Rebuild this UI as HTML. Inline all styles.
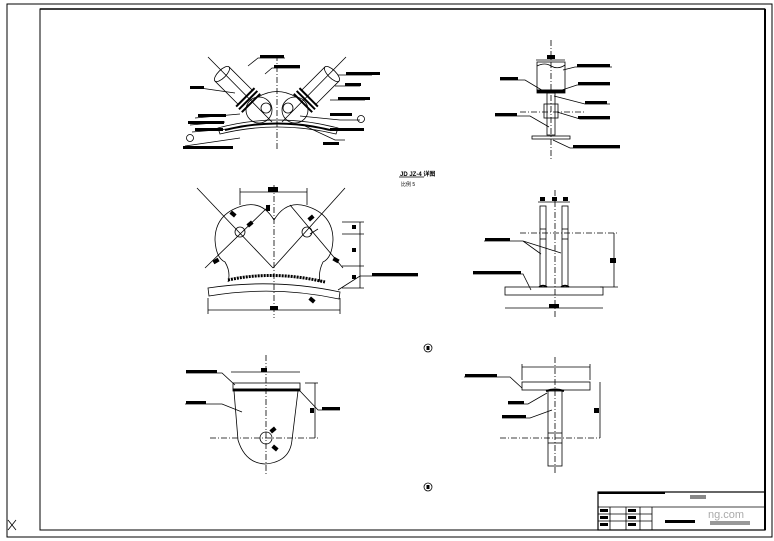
<!DOCTYPE html>
<html><head><meta charset="utf-8"><style>
html,body{margin:0;padding:0;background:#fff;}
svg{display:block;}
text{font-family:"Liberation Sans","Noto Sans CJK SC",sans-serif;}
</style></head><body>
<svg width="774" height="541" viewBox="0 0 774 541" xmlns="http://www.w3.org/2000/svg" fill="none" stroke="#000" stroke-width="0.8">
<!-- frames -->
<rect x="7" y="4" width="765" height="533" stroke-width="1"/>
<rect x="40" y="9" width="725" height="521" stroke-width="1"/>
<line x1="765" y1="9" x2="765" y2="530" stroke-width="2"/>
<line x1="40" y1="9" x2="765" y2="9" stroke-width="1.5"/>
<path d="M8 520 L16 530 M16 520 L8 530" stroke-width="0.8"/>
<!-- title block -->
<rect x="598" y="492" width="167" height="38" stroke-width="1.2"/>
<line x1="598" y1="493" x2="665" y2="493" stroke-width="2"/>
<line x1="598" y1="507" x2="765" y2="507"/>
<line x1="598" y1="514" x2="652" y2="514"/>
<line x1="598" y1="521" x2="652" y2="521"/>
<line x1="610" y1="507" x2="610" y2="530"/><line x1="626" y1="507" x2="626" y2="530"/>
<line x1="640" y1="507" x2="640" y2="530"/><line x1="652" y1="507" x2="652" y2="530"/>
<g fill="#000" stroke="none">
<rect x="600" y="509" width="8" height="3"/><rect x="600" y="516" width="8" height="3"/><rect x="600" y="523" width="8" height="3"/>
<rect x="628" y="509" width="8" height="3"/><rect x="628" y="516" width="8" height="3"/><rect x="628" y="523" width="8" height="3"/>
<rect x="665" y="520" width="30" height="3"/><rect x="690" y="495" width="16" height="4" fill="#888"/>
<rect x="710" y="521" width="40" height="4" fill="#999"/>
</g>
<text x="708" y="518" font-size="11" fill="#aaa" stroke="none">ng.com</text>

<!-- title text -->
<text x="400" y="176" font-size="6" fill="#000" stroke="none" font-weight="bold">JD JZ-4 详图</text>
<line x1="399" y1="177" x2="424" y2="177"/>
<text x="401" y="186" font-size="5" fill="#000" stroke="none">比例 5</text>
<circle cx="428" cy="348" r="4"/><rect x="426.5" y="346" width="3" height="4" fill="#000" stroke="none"/>
<circle cx="428" cy="487" r="4"/><rect x="426.5" y="485" width="3" height="4" fill="#000" stroke="none"/>

<!-- TOP LEFT view -->
<g>
<line x1="277" y1="55" x2="277" y2="150" stroke-dasharray="6,2,1,2"/>
<line x1="208" y1="57" x2="272" y2="122"/><line x1="346" y1="57" x2="282" y2="122"/>
<g transform="translate(222,74) rotate(45)">
<path d="M0 -10 L34 -10 M0 10 L34 10"/>
<ellipse cx="0" cy="0" rx="4" ry="10"/>
<path d="M33 -13 L33 13 M37 -13 L37 13 M41 -13 L41 13" stroke-width="2"/>
</g>
<g transform="translate(332,74) rotate(135)">
<path d="M0 -10 L34 -10 M0 10 L34 10"/>
<ellipse cx="0" cy="0" rx="4" ry="10"/>
<path d="M33 -13 L33 13 M37 -13 L37 13 M41 -13 L41 13" stroke-width="2"/>
</g>
<circle cx="259" cy="110" r="13"/><circle cx="295" cy="110" r="13"/>
<circle cx="266" cy="108" r="5"/><circle cx="288" cy="108" r="5"/>
<path d="M218 128 Q277 112 338 128 L336 134 Q277 120 220 134 Z"/>
<path d="M225 130 Q277 117 330 130" stroke-width="2"/>
<path d="M258 97 Q277 86 296 97"/>
<!-- leaders -->
<path d="M248 66 L258 58 L285 58 M265 74 L272 68 L300 68 M200 88 L235 93 M338 75 L372 75 M335 86 L360 86 M330 100 L365 100 M300 116 L340 120 L360 120 M305 126 L335 140 L345 140 M195 118 L240 114 M190 125 L225 122 M192 132 L228 129 M185 146 L240 138"/>
<g fill="#000" stroke="none">
<rect x="260" y="55" width="24" height="3"/><rect x="274" y="65" width="26" height="3"/>
<rect x="190" y="86" width="14" height="3"/><rect x="346" y="72" width="34" height="3"/>
<rect x="345" y="83" width="16" height="3"/><rect x="338" y="97" width="32" height="3"/>
<rect x="330" y="113" width="22" height="3"/><rect x="330" y="128" width="34" height="3"/>
<rect x="323" y="142" width="16" height="3"/><rect x="198" y="114" width="28" height="3"/>
<rect x="188" y="121" width="36" height="3"/><rect x="195" y="128" width="28" height="3"/>
<rect x="183" y="146" width="50" height="3"/>
</g>
<circle cx="361" cy="119" r="3.5"/><circle cx="190" cy="138" r="3.5"/>
</g>

<!-- TOP RIGHT view -->
<g>
<line x1="551" y1="40" x2="551" y2="160" stroke-dasharray="6,2,1,2"/>
<line x1="520" y1="112" x2="585" y2="112" stroke-dasharray="6,2,1,2"/>
<line x1="536" y1="60" x2="565" y2="60"/>
<rect x="537" y="62" width="28" height="28"/>
<path d="M537 66 Q545 62 551 66 Q558 70 565 65"/>
<rect x="537" y="90" width="28" height="3" fill="#000"/>
<rect x="547" y="93" width="8" height="42"/>
<rect x="544" y="104" width="14" height="14"/>
<rect x="532" y="136" width="38" height="3"/>
<rect x="547" y="55" width="8" height="4" fill="#000" stroke="none"/>
<path d="M563 70 L575 67 L612 67 M562 90 L577 85 L610 85 M554 96 L585 104 L610 104 M557 112 L580 119 L610 119 M549 127 L530 116 L495 116 M545 92 L525 80 L500 80 M553 140 L570 148 L620 148"/>
<g fill="#000" stroke="none">
<rect x="577" y="64" width="33" height="3"/><rect x="578" y="82" width="32" height="3"/>
<rect x="585" y="101" width="22" height="3"/><rect x="578" y="116" width="32" height="3"/>
<rect x="495" y="113" width="22" height="3"/><rect x="500" y="77" width="18" height="3"/>
<rect x="573" y="145" width="47" height="3"/>
</g>
</g>

<!-- MID LEFT view -->
<g>
<line x1="274" y1="185" x2="274" y2="318" stroke-dasharray="6,2,1,2"/>
<line x1="240" y1="192" x2="307" y2="192"/><line x1="240" y1="188" x2="240" y2="205"/><line x1="307" y1="188" x2="307" y2="205"/>
<rect x="268" y="187" width="10" height="5" fill="#000" stroke="none"/>
<line x1="197" y1="188" x2="273" y2="268"/><line x1="273" y1="268" x2="345" y2="188"/>
<line x1="205" y1="268" x2="270" y2="205"/><line x1="290" y1="205" x2="343" y2="268"/>
<path d="M274 220 Q262 200 242 206 Q215 214 215 240 Q216 258 225 262 Q231 272 228 282 M274 220 Q286 200 306 206 Q333 214 333 240 Q332 258 323 262 Q318 272 320 282"/>
<circle cx="240" cy="232" r="5"/><circle cx="307" cy="232" r="5"/>
<path d="M228 280 Q274 270 325 282" stroke-width="3" stroke-dasharray="2,1"/>
<path d="M208 288 Q274 278 340 292 L339 299 Q274 285 209 296 Z"/>
<line x1="208" y1="310" x2="340" y2="310"/><line x1="208" y1="298" x2="208" y2="314"/><line x1="340" y1="298" x2="340" y2="314"/>
<rect x="270" y="306" width="8" height="4" fill="#000" stroke="none"/>
<line x1="360" y1="222" x2="360" y2="288"/>
<path d="M342 222 L364 222 M342 234 L364 234 M342 266 L364 266 M342 288 L364 288"/>
<rect x="352" y="225" width="4" height="4" fill="#000" stroke="none"/>
<rect x="352" y="248" width="4" height="4" fill="#000" stroke="none"/>
<rect x="352" y="275" width="4" height="4" fill="#000" stroke="none"/>
<path d="M338 290 L360 276 L418 276"/>
<rect x="372" y="273" width="46" height="3" fill="#000" stroke="none"/>
<g fill="#000" stroke="none">
<rect x="230" y="212" width="6" height="4" transform="rotate(40 233 214)"/>
<rect x="266" y="205" width="4" height="6"/>
<rect x="308" y="216" width="6" height="4" transform="rotate(-40 311 218)"/>
<rect x="247" y="222" width="6" height="4" transform="rotate(-40 250 224)"/>
<rect x="213" y="259" width="6" height="4" transform="rotate(-30 216 261)"/>
<rect x="333" y="258" width="6" height="4" transform="rotate(30 336 260)"/>
<rect x="309" y="298" width="6" height="4" transform="rotate(40 312 300)"/>
</g>
<path d="M310 234 L318 229"/>
</g>

<!-- MID RIGHT view -->
<g>
<line x1="555" y1="190" x2="555" y2="318" stroke-dasharray="6,2,1,2"/>
<line x1="520" y1="233" x2="618" y2="233" stroke-dasharray="6,2,1,2"/>
<rect x="540" y="206" width="6" height="81"/><rect x="562" y="206" width="6" height="81"/>
<line x1="540" y1="229" x2="546" y2="229"/><line x1="540" y1="239" x2="546" y2="239"/>
<line x1="562" y1="229" x2="568" y2="229"/><line x1="562" y1="239" x2="568" y2="239"/>
<line x1="538" y1="202" x2="570" y2="202"/>
<g fill="#000" stroke="none"><rect x="540" y="197" width="5" height="4"/><rect x="552" y="197" width="5" height="4"/><rect x="563" y="197" width="5" height="4"/></g>
<rect x="505" y="287" width="98" height="8"/>
<path d="M539 287 Q543 284 547 287 M561 287 Q565 284 569 287" stroke-width="1.5"/>
<line x1="505" y1="308" x2="603" y2="308"/>
<rect x="549" y="304" width="10" height="4" fill="#000" stroke="none"/>
<line x1="614" y1="233" x2="614" y2="287"/><line x1="600" y1="287" x2="618" y2="287"/>
<rect x="610" y="258" width="6" height="5" fill="#000" stroke="none"/>
<path d="M484 241 L523 241 L541 254 M523 241 L561 253 M473 274 L523 274 L531 290"/>
<rect x="485" y="238" width="25" height="3" fill="#000" stroke="none"/>
<rect x="473" y="271" width="48" height="3" fill="#000" stroke="none"/>
</g>

<!-- BOTTOM LEFT view -->
<g>
<line x1="266" y1="355" x2="266" y2="475" stroke-dasharray="6,2,1,2"/>
<line x1="210" y1="438" x2="318" y2="438" stroke-dasharray="6,2,1,2"/>
<line x1="231" y1="372" x2="300" y2="372"/><rect x="261" y="368" width="6" height="4" fill="#000" stroke="none"/>
<rect x="233" y="383" width="67" height="6"/>
<rect x="233" y="389" width="67" height="2" fill="#000"/>
<path d="M234 391 L238 440 Q245 463 265 464 Q290 462 292 440 L298 391"/>
<circle cx="266" cy="438" r="6"/>
<line x1="315" y1="383" x2="315" y2="438"/><line x1="305" y1="383" x2="318" y2="383"/>
<rect x="310" y="408" width="4" height="5" fill="#000" stroke="none"/>
<path d="M186 373 L222 373 L235 385 M185 404 L222 404 L242 412 M300 391 L318 410 L340 410"/>
<g fill="#000" stroke="none">
<rect x="186" y="370" width="31" height="3"/><rect x="186" y="401" width="20" height="3"/>
<rect x="322" y="407" width="18" height="3"/>
<rect x="270" y="428" width="6" height="4" transform="rotate(-40 273 430)"/>
<rect x="272" y="446" width="6" height="4" transform="rotate(40 275 448)"/>
</g>
</g>

<!-- BOTTOM RIGHT view -->
<g>
<line x1="555" y1="357" x2="555" y2="475" stroke-dasharray="6,2,1,2"/>
<line x1="500" y1="438" x2="600" y2="438" stroke-dasharray="6,2,1,2"/>
<line x1="522" y1="367" x2="590" y2="367"/><line x1="522" y1="364" x2="522" y2="380"/><line x1="590" y1="364" x2="590" y2="380"/>
<rect x="522" y="382" width="68" height="8"/>
<path d="M546 391 Q555 388 564 391" stroke-width="2"/>
<rect x="548" y="391" width="14" height="75"/>
<line x1="548" y1="433" x2="562" y2="433"/><line x1="548" y1="443" x2="562" y2="443"/>
<line x1="600" y1="382" x2="600" y2="438"/>
<rect x="594" y="408" width="5" height="5" fill="#000" stroke="none"/>
<path d="M464 377 L510 377 L522 388 M508 404 L528 404 L547 393 M502 418 L530 418 L552 410"/>
<g fill="#000" stroke="none">
<rect x="465" y="374" width="32" height="3"/><rect x="508" y="401" width="16" height="3"/>
<rect x="502" y="415" width="24" height="3"/>
</g>
</g>
</svg>
</body></html>
